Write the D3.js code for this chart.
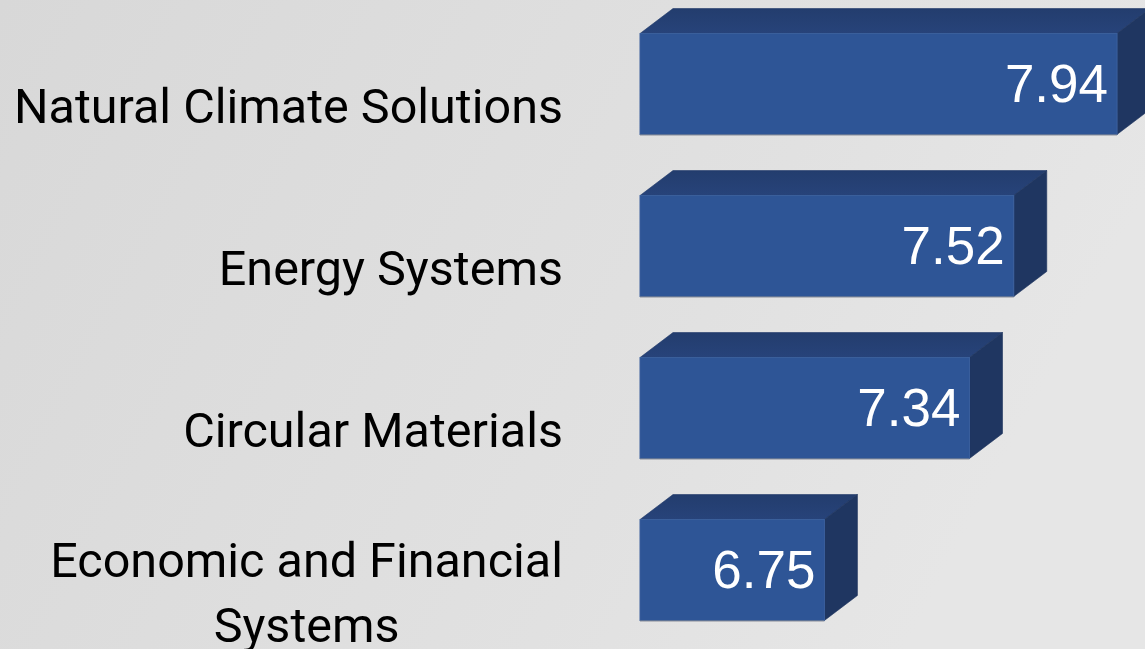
<!DOCTYPE html>
<html>
<head>
<meta charset="utf-8">
<script src="https://cdn.jsdelivr.net/npm/d3@7"></script>
<style>
  html, body { margin: 0; padding: 0; overflow: hidden; }
  svg { display: block; }
</style>
</head>
<body>
<svg id="chart" width="1145" height="649"></svg>
<script>
// Scores per theme
const categories = [
  "Natural Climate Solutions",
  "Energy Systems",
  "Circular Materials",
  "Economic and Financial Systems"
];
const scores = [7.94, 7.52, 7.34, 6.75];
const scoreLabels = ["7.94", "7.52", "7.34", "6.75"];
const axisDomain = [6, 8];

const W = 1145, H = 649;
const depthX = 33, depthY = 25;      // 3D extrusion offset
const labelRight = 563;             // right edge of category labels
const labelFont = 48.5;
const lineGap = 65;

const svg = d3.select("#chart");
const defs = svg.append("defs");

// soft grey backdrop
const bg = defs.append("linearGradient").attr("id", "bg")
  .attr("x1", "0%").attr("y1", "0%").attr("x2", "100%").attr("y2", "30%");
bg.append("stop").attr("offset", "0%").attr("stop-color", "#d8d8d8");
bg.append("stop").attr("offset", "70%").attr("stop-color", "#e1e1e1");
bg.append("stop").attr("offset", "100%").attr("stop-color", "#e6e6e6");
svg.append("rect").attr("width", W).attr("height", H).attr("fill", "url(#bg)");

const topGrad = defs.append("linearGradient").attr("id", "topFace")
  .attr("x1", "0").attr("y1", "0").attr("x2", "0").attr("y2", "1");
topGrad.append("stop").attr("offset", "0%").attr("stop-color", "#233d6e");
topGrad.append("stop").attr("offset", "100%").attr("stop-color", "#27437a");

const x = d3.scaleLinear().domain(axisDomain).range([640, 1131.8]);
const y = d3.scaleBand().domain(categories).range([3, 651])
  .paddingInner(0.377).paddingOuter(0.1885);

const data = categories.map((c, i) => ({ cat: c, value: scores[i], label: scoreLabels[i] }));

const bars = svg.append("g").selectAll("g.bar").data(data).join("g").attr("class", "bar");

bars.each(function (d) {
  const g = d3.select(this);
  const x0 = x(axisDomain[0]), x1 = x(d.value);
  const y0 = y(d.cat), y1 = y0 + y.bandwidth();
  // top face
  g.append("path")
    .attr("d", `M${x0},${y0}L${x0 + depthX},${y0 - depthY}L${x1 + depthX},${y0 - depthY}L${x1},${y0}Z`)
    .attr("fill", "url(#topFace)").attr("stroke", "#1f3867").attr("stroke-width", 0.6);
  // side face
  g.append("path")
    .attr("d", `M${x1},${y0}L${x1 + depthX},${y0 - depthY}L${x1 + depthX},${y1 - depthY}L${x1},${y1}Z`)
    .attr("fill", "#1f3661").attr("stroke", "#1c325c").attr("stroke-width", 0.6);
  // front face
  g.append("rect")
    .attr("x", x0).attr("y", y0).attr("width", x1 - x0).attr("height", y1 - y0)
    .attr("fill", "#2e5596").attr("stroke", "#3a5f9c").attr("stroke-width", 1);
  g.append("line")
    .attr("x1", x0).attr("x2", x1).attr("y1", y1 + 0.5).attr("y2", y1 + 0.5)
    .attr("stroke", "#7f8591").attr("stroke-width", 1);
  // value label
  g.append("text")
    .attr("x", x1 - 9).attr("y", (y0 + y1) / 2 + 18)
    .attr("text-anchor", "end")
    .attr("font-family", "'Liberation Sans', Arial, sans-serif")
    .attr("font-size", 53)
    .attr("fill", "#ffffff")
    .text(d.label);
});

// category labels, wrapped and centred as a block against the right edge
const labels = svg.append("g")
  .attr("font-family", "Roboto, 'Noto Sans', sans-serif")
  .attr("font-size", labelFont)
  .attr("fill", "#000000");

const measurer = labels.append("text").attr("visibility", "hidden");
function textWidth(s) { measurer.text(s); return measurer.node().getComputedTextLength(); }

data.forEach(d => {
  const words = d.cat.split(" ");
  const lines = [];
  let cur = "";
  words.forEach(w => {
    const t = cur ? cur + " " + w : w;
    if (textWidth(t) > 556 && cur) { lines.push(cur); cur = w; } else { cur = t; }
  });
  lines.push(cur);
  const blockW = d3.max(lines, textWidth);
  const cx = labelRight - blockW / 2;
  const mid = y(d.cat) + y.bandwidth() / 2 + 22;
  const cap = labelFont * 0.711;
  const firstBase = mid + cap / 2 - (lines.length - 1) * lineGap / 2;
  lines.forEach((ln, i) => {
    labels.append("text")
      .attr("x", cx).attr("y", firstBase + i * lineGap)
      .attr("text-anchor", "middle")
      .text(ln);
  });
});
measurer.remove();
</script>
</body>
</html>
